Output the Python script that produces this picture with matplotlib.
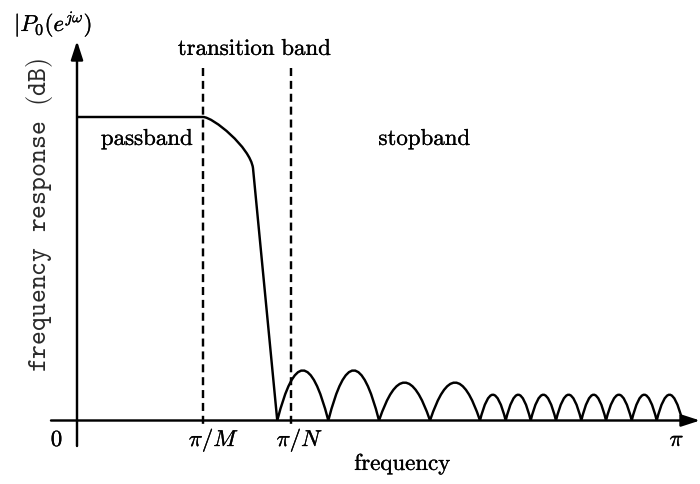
import matplotlib
matplotlib.use("Agg")
import matplotlib.pyplot as plt
from matplotlib.path import Path
from matplotlib.patches import PathPatch
import matplotlib.patheffects as pe

plt.rcParams['mathtext.fontset'] = 'cm'
plt.rcParams['font.family'] = ['DejaVu Serif']

# ---- data (frequency in units of pi, response normalised to passband) ----
passband_level = 1.0
pi_over_M = 0.2083          # passband edge
pi_over_N = 0.3537          # stopband edge
knee_x, knee_y = 0.2909, 0.8317   # end of rounded roll-off
ctrl1 = (0.2248, 1.0)       # roll-off curve shape
ctrl2 = (0.2860, 0.9010)
null_x = [0.331, 0.4154, 0.4992, 0.5835, 0.6661, 0.7086, 0.7499, 0.7917,
          0.8336, 0.8744, 0.9169, 0.9582, 1.0005]
lobe_peak = [0.165, 0.165, 0.125, 0.125, 0.085, 0.085, 0.085, 0.085,
             0.085, 0.085, 0.085, 0.085]
tick_pos = [0.0, pi_over_M, pi_over_N, 1.0]
tick_lab = [r'$0$', r'$\pi/M$', r'$\pi/N$', r'$\pi$']

# ---- figure ----
W, H = 700, 484
fig = plt.figure(figsize=(W / 100, H / 100), dpi=100)
ax = fig.add_axes([0, 0, 1, 1])
x0px, xpipx = 77, 682
y0px, y1px = 420.5, 117
sx = xpipx - x0px
sy = y0px - y1px
ax.set_xlim(-x0px / sx, (W - x0px) / sx)
ax.set_ylim((y0px - H) / sy, y0px / sy)
ax.axis('off')

lw = 1.75
px = 1.0 / sx   # one pixel in x data units

# axes with arrows
arrow = dict(arrowstyle='-|>,head_length=0.8,head_width=0.26',
             lw=lw, color='k', shrinkA=0, shrinkB=0, mutation_scale=14)
ax.annotate('', xy=((700 - x0px) / sx, 0), xytext=((51 - x0px) / sx, 0),
            arrowprops=arrow)
ax.annotate('', xy=(0, (y0px - 41) / sy), xytext=(0, (y0px - 446) / sy),
            arrowprops=arrow)

# dashed band edges
for xe in (pi_over_M, pi_over_N):
    ax.plot([xe, xe], [(y0px - 68) / sy, (y0px - 425) / sy], color='k',
            lw=lw, dashes=(3.3, 2.0), dash_capstyle='butt')

# response curve
verts = [(0, passband_level), (pi_over_M, passband_level),
         ctrl1, ctrl2, (knee_x, knee_y), (null_x[0], 0)]
codes = [Path.MOVETO, Path.LINETO, Path.CURVE4, Path.CURVE4, Path.CURVE4,
         Path.LINETO]
for a, b, h in zip(null_x[:-1], null_x[1:], lobe_peak):
    verts += [((a + b) / 2, 2 * h), (b, 0)]
    codes += [Path.CURVE3, Path.CURVE3]
ax.add_patch(PathPatch(Path(verts, codes), fill=False, lw=lw, color='k',
                       joinstyle='miter', capstyle='butt'))

fs = 16.5
bold = [pe.withStroke(linewidth=0.22, foreground='k')]
# tick labels
tick_dx = [-20, 11, 9, -5]
for xp, lab, dx in zip(tick_pos, tick_lab, tick_dx):
    ax.text(xp + dx * px, (y0px - 446) / sy, lab, ha='center', va='baseline',
            fontsize=fs, path_effects=bold)

ax.text((403 - x0px) / sx, (y0px - 470) / sy, r'$\mathrm{frequency}$',
        ha='center', va='baseline', fontsize=fs, path_effects=bold)
ax.text((147.5 - x0px) / sx, (y0px - 145) / sy, r'$\mathrm{passband}$',
        ha='center', va='baseline', fontsize=fs, path_effects=bold)
ax.text((425 - x0px) / sx, (y0px - 145) / sy, r'$\mathrm{stopband}$',
        ha='center', va='baseline', fontsize=fs, path_effects=bold)
ax.text((pi_over_M + pi_over_N) / 2 + 8 * px, (y0px - 55) / sy,
        r'$\mathrm{transition\ band}$', ha='center', va='baseline',
        fontsize=fs, path_effects=bold)
ax.text((14 - x0px) / sx, (y0px - 31) / sy, r'$|P_0(e^{j\omega})$',
        ha='left', va='baseline', fontsize=fs, path_effects=bold)
ax.text((40 - x0px) / sx, (y0px - 215) / sy,
        r'$\mathtt{frequency\ \ response\ \ (dB)}$', ha='center', va='center',
        rotation=90, fontsize=19, color='#2a2a2a')

fig.savefig('out.png', dpi=100)
